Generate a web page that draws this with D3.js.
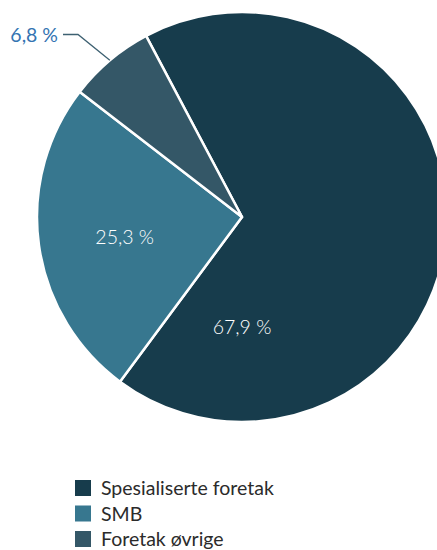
<!DOCTYPE html>
<html>
<head>
<meta charset="utf-8">
<script src="https://cdn.jsdelivr.net/npm/d3@7"></script>
<style>
  html, body { margin: 0; padding: 0; background: #fff; overflow: hidden; }
  svg { display: block; font-family: Lato, "Open Sans", sans-serif; }
</style>
</head>
<body>
<svg id="chart" width="437" height="550"></svg>
<script>
// Share of companies by category (percent)
const categories = ["Spesialiserte foretak", "SMB", "Foretak øvrige"];
const values = [67.9, 25.3, 6.8];
const valueLabels = ["67,9 %", "25,3 %", "6,8 %"];
const colors = ["#173c4c", "#37778f", "#345767"];

const svg = d3.select("#chart");
const cx = 242, cy = 217, radius = 205;

const color = d3.scaleOrdinal().domain(categories).range(colors);

// First slice starts a little left of twelve o'clock and runs clockwise
const startOffset = -27.9 * Math.PI / 180;
const pie = d3.pie()
  .sort(null)
  .value(d => d.value)
  .startAngle(startOffset)
  .endAngle(startOffset + 2 * Math.PI);

const data = categories.map((c, i) => ({ name: c, value: values[i], label: valueLabels[i] }));
const arcs = pie(data);

const arc = d3.arc().innerRadius(0).outerRadius(radius);

const g = svg.append("g").attr("transform", `translate(${cx},${cy})`);

g.selectAll("path.slice")
  .data(arcs)
  .join("path")
  .attr("class", "slice")
  .attr("d", arc)
  .attr("fill", d => color(d.data.name))
  .attr("stroke", "#fff")
  .attr("stroke-width", 2.5)
  .attr("stroke-linejoin", "round");

// Labels inside the two large slices: placement angle (deg, clockwise from 12) and distance
const insidePlacement = [
  { i: 0, angle: 180, dist: 109 },
  { i: 1, angle: 260.4, dist: 119 }
];
insidePlacement.forEach(({ i, angle, dist }) => {
  const t = angle * Math.PI / 180;
  g.append("text")
    .attr("x", Math.sin(t) * dist)
    .attr("y", -Math.cos(t) * dist)
    .attr("text-anchor", "middle")
    .attr("dominant-baseline", "central")
    .attr("fill", "#fff")
    .attr("font-size", 19.5)
    .attr("font-weight", 300)
    .text(arcs[i].data.label);
});

// Outside label with leader line for the small slice
{
  const a = arcs[2];
  const mid = (a.startAngle + a.endAngle) / 2;
  const pOuter = [Math.sin(mid) * radius, -Math.cos(mid) * radius];
  const elbow = [78 - cx, 34.5 - cy];
  const end = [63 - cx, 34.5 - cy];
  g.append("polyline")
    .attr("points", [pOuter, elbow, end].map(p => p.join(",")).join(" "))
    .attr("fill", "none")
    .attr("stroke", "#3e6172")
    .attr("stroke-width", 1.3);
  g.append("text")
    .attr("x", end[0] - 5)
    .attr("y", end[1])
    .attr("text-anchor", "end")
    .attr("dominant-baseline", "central")
    .attr("fill", "#3474b2")
    .attr("font-size", 19.5)
    .attr("font-weight", 400)
    .text(a.data.label);
}

// Legend
const legend = svg.append("g").attr("transform", "translate(75,480)");
const item = legend.selectAll("g.item")
  .data(categories)
  .join("g")
  .attr("class", "item")
  .attr("transform", (d, i) => `translate(0,${i * 25.5})`);
item.append("rect")
  .attr("width", 16)
  .attr("height", 16)
  .attr("fill", d => color(d));
item.append("text")
  .attr("x", 26)
  .attr("y", 15)
  .attr("fill", "#2b2b2b")
  .attr("font-size", 19.5)
  .attr("font-weight", 400)
  .text(d => d);
</script>
</body>
</html>
